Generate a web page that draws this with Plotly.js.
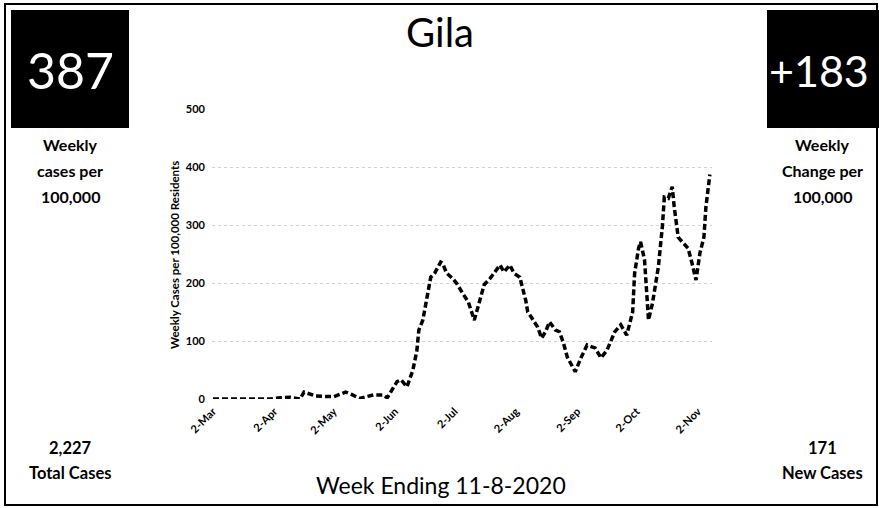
<!DOCTYPE html>
<html>
<head>
<meta charset="utf-8">
<script src="https://cdn.plot.ly/plotly-3.0.1.min.js"></script>
<style>
  html, body { margin: 0; padding: 0; background: #fff; }
  #chart { width: 879px; height: 508px; }
</style>
</head>
<body>
<div id="chart"></div>
<script>
// ---- Data ----
const dates = [
  '2020-03-02','2020-03-31','2020-04-05','2020-04-10','2020-04-15','2020-04-17','2020-04-23',
  '2020-05-02','2020-05-08','2020-05-11','2020-05-15','2020-05-22','2020-05-27','2020-05-29',
  '2020-06-03','2020-06-05','2020-06-08','2020-06-11','2020-06-13','2020-06-14','2020-06-16',
  '2020-06-18','2020-06-20','2020-06-22','2020-06-25','2020-06-26','2020-06-28',
  '2020-07-01','2020-07-03','2020-07-06','2020-07-09','2020-07-12','2020-07-15','2020-07-17',
  '2020-07-20','2020-07-22','2020-07-25','2020-07-27','2020-07-30',
  '2020-08-01','2020-08-04','2020-08-07','2020-08-08','2020-08-10','2020-08-13','2020-08-15',
  '2020-08-17','2020-08-19','2020-08-22','2020-08-24','2020-08-26','2020-08-28',
  '2020-09-01','2020-09-04','2020-09-07','2020-09-11','2020-09-14','2020-09-17','2020-09-21',
  '2020-09-24','2020-09-27','2020-09-30',
  '2020-10-01','2020-10-03','2020-10-04','2020-10-06','2020-10-07','2020-10-08','2020-10-10',
  '2020-10-13','2020-10-15','2020-10-16','2020-10-18','2020-10-20','2020-10-21','2020-10-23',
  '2020-10-25','2020-10-28','2020-10-30',
  '2020-11-01','2020-11-03','2020-11-05','2020-11-06','2020-11-08'
];
const weeklyPer100k = [
  0, 0, 2, 3, 0, 12, 5,
  4, 12, 8, 1, 7, 7, 2,
  30, 33, 21, 50, 84, 119, 136,
  170, 210, 217, 236, 234, 217,
  208, 200, 183, 167, 136, 176, 197,
  208, 217, 231, 219, 231,
  217, 210, 170, 150, 140, 124, 105,
  116, 133, 119, 116, 97, 72,
  47, 72, 93, 88, 71, 84, 116,
  128, 110, 150,
  217, 260, 271, 240, 182, 136, 165,
  228, 297, 348, 346, 366, 331, 279,
  271, 260, 234,
  205, 252, 279, 331, 387
];
const tickDates = ['2020-03-02','2020-04-02','2020-05-02','2020-06-02','2020-07-02',
                   '2020-08-02','2020-09-02','2020-10-02','2020-11-02'];
const tickLabels = ['2-Mar','2-Apr','2-May','2-Jun','2-Jul','2-Aug','2-Sep','2-Oct','2-Nov'];
const yTicks = [0, 100, 200, 300, 400, 500];

const countyName = 'Gila';
const weeklyRate = '387';
const weeklyChange = '+183';
const totalCases = '2,227';
const newCases = '171';
const weekEnding = 'Week Ending 11-8-2020';

// ---- Layout geometry ----
const FW = 879, FH = 508;
const L = 212, R = 712, T = 109, B = 399;
const PW = R - L, PH = B - T;
const px = x => (x - L) / PW;
const py = y => 1 - (y - T) / PH;
const FONT = 'Lato, "Open Sans", sans-serif';

const trace = {
  x: dates,
  y: weeklyPer100k,
  type: 'scatter',
  mode: 'lines',
  line: { color: '#000', width: 3.5, dash: '6px,3px' },
  hoverinfo: 'x+y'
};

function txt(x, y, text, size, opts) {
  return Object.assign({
    xref: 'paper', yref: 'paper', x: px(x), y: py(y),
    xanchor: 'center', yanchor: 'middle', showarrow: false,
    text: text, font: { family: FONT, size: size, color: '#000' }
  }, opts || {});
}
const bold = (size, color) => ({ font: { family: FONT, size: size, color: color || '#000', weight: 'bold' } });

const annotations = [
  txt(440, 32, countyName, 40),
  txt(70, 70, weeklyRate, 50, { font: { family: FONT, size: 50, color: '#fff' } }),
  txt(819, 70, weeklyChange, 43, { font: { family: FONT, size: 43, color: '#fff' } }),
  txt(70, 144, 'Weekly', 16, bold(16)),
  txt(70, 170, 'cases per', 16, bold(16)),
  txt(70, 196, '100,000', 16, bold(16)),
  txt(822, 144, 'Weekly', 16, bold(16)),
  txt(822, 170, 'Change per', 16, bold(16)),
  txt(822, 196, '100,000', 16, bold(16)),
  txt(70, 448, totalCases, 16.5, bold(16.5)),
  txt(70, 473, 'Total Cases', 16.5, bold(16.5)),
  txt(822, 448, newCases, 16.5, bold(16.5)),
  txt(822, 473, 'New Cases', 16.5, bold(16.5)),
  txt(441, 485, weekEnding, 23),
  txt(174, 255, 'Weekly Cases per 100,000 Residents', 11.5,
      Object.assign({ textangle: -90 }, bold(11.5)))
];

const shapes = [
  { type: 'rect', xref: 'paper', yref: 'paper', layer: 'below',
    x0: px(5), x1: px(877), y0: py(4), y1: py(505),
    line: { color: '#000', width: 2 }, fillcolor: 'rgba(0,0,0,0)' },
  { type: 'rect', xref: 'paper', yref: 'paper', layer: 'below',
    x0: px(11), x1: px(129), y0: py(10), y1: py(128),
    line: { width: 0 }, fillcolor: '#000' },
  { type: 'rect', xref: 'paper', yref: 'paper', layer: 'below',
    x0: px(767), x1: px(879), y0: py(10), y1: py(128),
    line: { width: 0 }, fillcolor: '#000' }
];

const layout = {
  width: FW, height: FH,
  margin: { l: L, r: FW - R, t: T, b: FH - B, pad: 0 },
  paper_bgcolor: '#fff', plot_bgcolor: '#fff',
  showlegend: false,
  font: { family: FONT, color: '#000' },
  xaxis: {
    type: 'date',
    range: ['2020-03-01 12:00', '2020-11-09 02:00'],
    tickvals: tickDates, ticktext: tickLabels,
    tickangle: -45,
    tickfont: { family: FONT, size: 11, color: '#000', weight: 'bold' },
    showgrid: false, zeroline: false, showline: false, ticks: '',
    ticklabelstandoff: 3, fixedrange: true
  },
  yaxis: {
    range: [0, 500],
    tickvals: yTicks,
    tickfont: { family: FONT, size: 11, color: '#000', weight: 'bold' },
    showgrid: true, gridcolor: '#d2d2d2', gridwidth: 1, griddash: 'dot',
    zeroline: false, showline: false, ticks: '',
    ticklabelstandoff: 6, fixedrange: true
  },
  annotations: annotations,
  shapes: shapes
};

Plotly.newPlot('chart', [trace], layout, { displayModeBar: false, staticPlot: true });
</script>
</body>
</html>
